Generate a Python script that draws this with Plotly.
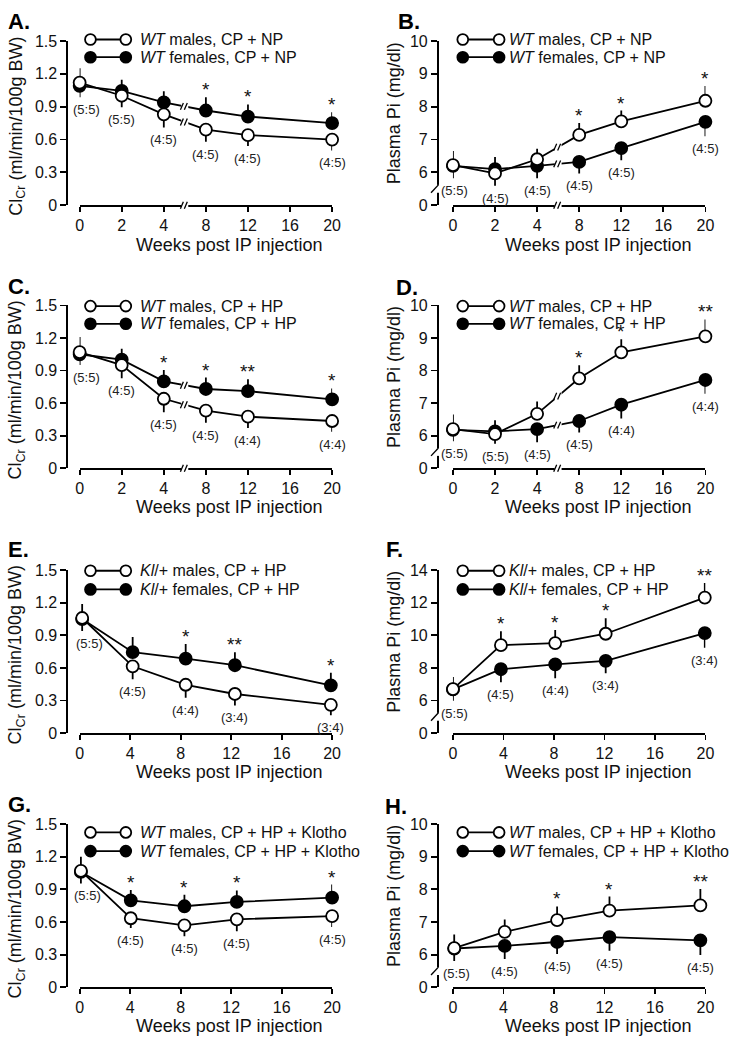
import plotly.graph_objects as go

W, H = 738, 1050
FONT = "Liberation Sans, Arial, Helvetica, sans-serif"
INK = "#111111"

# ---------------- axis categories / ticks ----------------
week_cats = ["0", "2", "4", "8", "12", "16", "20"]   # broken x axis, panels A-D
weeks_ad = ["0", "2", "4", "8", "12", "20"]          # sampled weeks, panels A-D
week_ticks_eh = [0, 4, 8, 12, 16, 20]                # panels E-H

clcr_ticks = [0, 0.3, 0.6, 0.9, 1.2, 1.5]
clcr_ticktext = ["0", "0.3", "0.6", "0.9", "1.2", "1.5"]
pi10_ticks = [5, 6, 7, 8, 9, 10]
pi10_ticktext = ["0", "6", "7", "8", "9", "10"]
pi14_ticks = [4, 6, 8, 10, 12, 14]
pi14_ticktext = ["0", "6", "8", "10", "12", "14"]

# ---------------- data ----------------
# A: ClCr, WT, CP + NP
a_male = [1.12, 1.00, 0.83, 0.69, 0.64, 0.60]
a_male_err = [0.13, 0.105, 0.12, 0.11, 0.10, 0.10]
a_female = [1.09, 1.045, 0.94, 0.865, 0.81, 0.75]
a_female_err = [0.105, 0.10, 0.10, 0.12, 0.11, 0.10]
a_n = ["(5:5)", "(5:5)", "(4:5)", "(4:5)", "(4:5)", "(4:5)"]
a_sig = ["", "", "", "*", "*", "*"]

# B: Plasma Pi, WT, CP + NP
b_male = [6.22, 5.97, 6.40, 7.14, 7.55, 8.18]
b_male_err = [0.43, 0.38, 0.32, 0.36, 0.33, 0.45]
b_female = [6.20, 6.10, 6.20, 6.32, 6.74, 7.54]
b_female_err = [0.38, 0.37, 0.38, 0.35, 0.37, 0.44]
b_n = ["(5:5)", "(4:5)", "(4:5)", "(4:5)", "(4:5)", "(4:5)"]
b_sig = ["", "", "", "*", "*", "*"]

# C: ClCr, WT, CP + HP
c_male = [1.07, 0.95, 0.64, 0.53, 0.475, 0.435]
c_male_err = [0.14, 0.12, 0.125, 0.11, 0.105, 0.10]
c_female = [1.05, 1.00, 0.80, 0.73, 0.71, 0.635]
c_female_err = [0.10, 0.10, 0.105, 0.105, 0.11, 0.10]
c_n = ["(5:5)", "(4:5)", "(4:5)", "(4:5)", "(4:4)", "(4:4)"]
c_sig = ["", "", "*", "*", "**", "*"]

# D: Plasma Pi, WT, CP + HP
d_male = [6.20, 6.05, 6.67, 7.76, 8.56, 9.05]
d_male_err = [0.45, 0.30, 0.38, 0.40, 0.40, 0.52]
d_female = [6.18, 6.13, 6.20, 6.45, 6.95, 7.71]
d_female_err = [0.35, 0.34, 0.40, 0.35, 0.42, 0.42]
d_n = ["(5:5)", "(5:5)", "(4:5)", "(4:5)", "(4:4)", "(4:4)"]
d_sig = ["", "", "", "*", "*", "**"]

# E: ClCr, Kl/+, CP + HP
e_weeks = [0.2, 4.2, 8.4, 12.3, 19.9]
e_male = [1.06, 0.615, 0.445, 0.36, 0.26]
e_male_err = [0.13, 0.12, 0.12, 0.105, 0.095]
e_female = [1.05, 0.745, 0.685, 0.625, 0.44]
e_female_err = [0.11, 0.14, 0.135, 0.12, 0.115]
e_n = ["(5:5)", "(4:5)", "(4:4)", "(3:4)", "(3:4)"]
e_sig = ["", "", "*", "**", "*"]

# F: Plasma Pi, Kl/+, CP + HP
f_weeks = [0.0, 3.8, 8.1, 12.1, 19.95]
f_male = [6.70, 9.40, 9.53, 10.10, 12.32]
f_male_err = [0.75, 0.85, 0.80, 0.95, 0.90]
f_female = [6.68, 7.92, 8.22, 8.44, 10.14]
f_female_err = [0.70, 0.80, 0.85, 0.77, 0.90]
f_n = ["(5:5)", "(4:5)", "(4:4)", "(3:4)", "(3:4)"]
f_sig = ["", "*", "*", "*", "**"]

# G: ClCr, WT, CP + HP + Klotho
g_weeks = [0.1, 4.05, 8.3, 12.45, 20.0]
g_male = [1.07, 0.635, 0.57, 0.625, 0.655]
g_male_err = [0.13, 0.09, 0.10, 0.11, 0.10]
g_female = [1.06, 0.80, 0.745, 0.785, 0.825]
g_female_err = [0.105, 0.095, 0.105, 0.105, 0.12]
g_n = ["(5:5)", "(4:5)", "(4:5)", "(4:5)", "(4:5)"]
g_sig = ["", "*", "*", "*", "*"]

# H: Plasma Pi, WT, CP + HP + Klotho
h_weeks = [0.1, 4.1, 8.25, 12.4, 19.6]
h_male = [6.20, 6.70, 7.06, 7.35, 7.51]
h_male_err = [0.42, 0.38, 0.42, 0.43, 0.50]
h_female = [6.19, 6.27, 6.39, 6.54, 6.44]
h_female_err = [0.38, 0.40, 0.37, 0.42, 0.45]
h_n = ["(5:5)", "(4:5)", "(4:5)", "(4:5)", "(4:5)"]
h_sig = ["", "", "*", "*", "**"]

clcr_title = "Cl<sub>Cr</sub> (ml/min/100g BW)"
pi_title = "Plasma Pi (mg/dl)"
x_title = "Weeks post IP injection"

# ---------------- panel configuration ----------------
ad_pos = [week_cats.index(w) for w in weeks_ad]

panels = [
    dict(tag="A.", col=0, row=0, x=ad_pos, broken_x=True, m=a_male, me=a_male_err, f=a_female, fe=a_female_err,
         n=a_n, sig=a_sig, kind="clcr", legend=("<i>WT</i> males, CP + NP", "<i>WT</i> females, CP + NP")),
    dict(tag="B.", col=1, row=0, x=ad_pos, broken_x=True, m=b_male, me=b_male_err, f=b_female, fe=b_female_err,
         n=b_n, sig=b_sig, kind="pi10", legend=("<i>WT</i> males, CP + NP", "<i>WT</i> females, CP + NP")),
    dict(tag="C.", col=0, row=1, x=ad_pos, broken_x=True, m=c_male, me=c_male_err, f=c_female, fe=c_female_err,
         n=c_n, sig=c_sig, kind="clcr", legend=("<i>WT</i> males, CP + HP", "<i>WT</i> females, CP + HP")),
    dict(tag="D.", col=1, row=1, x=ad_pos, broken_x=True, m=d_male, me=d_male_err, f=d_female, fe=d_female_err,
         n=d_n, sig=d_sig, kind="pi10", legend=("<i>WT</i> males, CP + HP", "<i>WT</i> females, CP + HP")),
    dict(tag="E.", col=0, row=2, x=e_weeks, broken_x=False, m=e_male, me=e_male_err, f=e_female, fe=e_female_err,
         n=e_n, sig=e_sig, kind="clcr", legend=("<i>Kl</i>/+ males, CP + HP", "<i>Kl</i>/+ females, CP + HP")),
    dict(tag="F.", col=1, row=2, x=f_weeks, broken_x=False, m=f_male, me=f_male_err, f=f_female, fe=f_female_err,
         n=f_n, sig=f_sig, kind="pi14", legend=("<i>Kl</i>/+ males, CP + HP", "<i>Kl</i>/+ females, CP + HP")),
    dict(tag="G.", col=0, row=3, x=g_weeks, broken_x=False, m=g_male, me=g_male_err, f=g_female, fe=g_female_err,
         n=g_n, sig=g_sig, kind="clcr",
         legend=("<i>WT</i> males, CP + HP + Klotho", "<i>WT</i> females, CP + HP + Klotho")),
    dict(tag="H.", col=1, row=3, x=h_weeks, broken_x=False, m=h_male, me=h_male_err, f=h_female, fe=h_female_err,
         n=h_n, sig=h_sig, kind="pi10",
         legend=("<i>WT</i> males, CP + HP + Klotho", "<i>WT</i> females, CP + HP + Klotho")),
]

# geometry (pixels)
COL_AXIS_X = [63.5, 440.7]
COL_X = [(77.0, 334.0), (457.0, 714.0)]
ROW_Y = [(33.5, 200.5), (302.3, 467.8), (571.5, 737.0), (829.5, 995.5)]
LEG_Y = [(32, 50), (303, 321), (572, 591), (838, 857)]
LEG_X = [(88, 124, 136), (467, 504, 512)]
YT_X = [13, 397]
TAG_POS = {"A.": (2, 14), "B.": (399, 14), "C.": (2, 283), "D.": (397, 284),
           "E.": (2, 550), "F.": (387, 550), "G.": (2, 810), "H.": (386, 812)}
XT_X = [229, 605]
XT_OFF = [40, 39, 39.5, 39]

LW = 1.8
MS = 12


def px(v):
    return v / W


def py(v):
    return 1 - v / H


fig = go.Figure()
layout = dict(width=W, height=H, margin=dict(l=0, r=0, t=0, b=0),
              paper_bgcolor="white", plot_bgcolor="white", showlegend=False,
              font=dict(family=FONT, color=INK))
annotations = []
shapes = []


def line_shape(x0, y0, x1, y1, w=LW):
    shapes.append(dict(type="line", xref="paper", yref="paper", x0=px(x0), y0=py(y0), x1=px(x1), y1=py(y1),
                       line=dict(color="black", width=w)))


def white_rect(x0, y0, x1, y1):
    shapes.append(dict(type="rect", xref="paper", yref="paper", x0=px(x0), y0=py(y0), x1=px(x1), y1=py(y1),
                       line=dict(width=0), fillcolor="white"))


def break_marks(cx, cy):
    white_rect(cx - 3.5, cy - 4, cx + 3.5, cy + 4)
    line_shape(cx - 4.5, cy + 3.5, cx - 1.5, cy - 3.5, 1.3)
    line_shape(cx - 0.5, cy + 3.5, cx + 2.5, cy - 3.5, 1.3)


for i, p in enumerate(panels, start=1):
    sfx = "" if i == 1 else str(i)
    xa, ya = "x" + sfx, "y" + sfx
    col, row = p["col"], p["row"]
    x0p, x1p = COL_X[col]
    top, bot = ROW_Y[row]
    axx = COL_AXIS_X[col]

    if p["kind"] == "clcr":
        yr, tv, tt, ytitle = [0, 1.5], clcr_ticks, clcr_ticktext, clcr_title
    elif p["kind"] == "pi10":
        yr, tv, tt, ytitle = [5, 10], pi10_ticks, pi10_ticktext, pi_title
    else:
        yr, tv, tt, ytitle = [4, 14], pi14_ticks, pi14_ticktext, pi_title

    if p["broken_x"]:
        xr, xtv, xtt = [0, 6], list(range(len(week_cats))), week_cats
    else:
        xr, xtv, xtt = [0, 20], week_ticks_eh, [str(t) for t in week_ticks_eh]

    def to_px(xv, yv):
        return (x0p + (xv - xr[0]) / (xr[1] - xr[0]) * (x1p - x0p),
                bot - (yv - yr[0]) / (yr[1] - yr[0]) * (bot - top))

    layout["xaxis" + sfx] = dict(domain=[px(x0p), px(x1p)], range=xr, anchor=ya, showline=True,
                                 linecolor="black", linewidth=LW, ticks="outside", ticklen=5,
                                 tickwidth=LW, tickcolor="black", tickmode="array", tickvals=xtv,
                                 ticktext=xtt, showgrid=False, zeroline=False,
                                 tickfont=dict(size=16, family=FONT, color=INK))
    layout["yaxis" + sfx] = dict(domain=[py(bot), py(top)], range=yr, anchor="free", position=px(axx),
                                 showline=True, linecolor="black", linewidth=LW, ticks="outside",
                                 ticklen=6, tickwidth=LW, tickcolor="black", tickmode="array",
                                 tickvals=tv, ticktext=tt, showgrid=False, zeroline=False,
                                 tickfont=dict(size=16, family=FONT, color=INK))

    # error-bar directions: upper series bar goes up, lower series bar goes down
    m_plus, m_minus, f_plus, f_minus = [], [], [], []
    for mv, fv, mev, fev in zip(p["m"], p["f"], p["me"], p["fe"]):
        if mv >= fv:
            m_plus.append(mev); m_minus.append(0); f_plus.append(0); f_minus.append(fev)
        else:
            m_plus.append(0); m_minus.append(mev); f_plus.append(fev); f_minus.append(0)

    for vals, plus, minus, fill in [(p["f"], f_plus, f_minus, "black"), (p["m"], m_plus, m_minus, "white")]:
        fig.add_trace(go.Scatter(
            x=p["x"], y=vals, xaxis=xa, yaxis=ya, mode="lines+markers", cliponaxis=False,
            line=dict(color="black", width=LW),
            marker=dict(symbol="circle", size=MS, color=fill, line=dict(color="black", width=LW)),
            error_y=dict(type="data", symmetric=False, array=plus, arrayminus=minus,
                         color="black", thickness=LW, width=0),
            hoverinfo="skip"))

    # significance stars and n labels
    for k, xv in enumerate(p["x"]):
        hi = max(p["m"][k] + m_plus[k], p["f"][k] + f_plus[k])
        lo = min(p["m"][k] - m_minus[k], p["f"][k] - f_minus[k])
        if p["sig"][k]:
            annotations.append(dict(x=xv, y=hi, xref=xa, yref=ya, text=p["sig"][k], showarrow=False,
                                    yanchor="bottom", yshift=-5, font=dict(size=19, family=FONT, color=INK)))
        annotations.append(dict(x=xv, y=lo, xref=xa, yref=ya, text=p["n"][k], showarrow=False,
                                yanchor="top", yshift=-3, xshift=(7 if col == 0 else 2) if k == 0 else 0,
                                font=dict(size=13, family=FONT, color="#222222")))

    # broken x axis marks (panels A-D)
    if p["broken_x"]:
        bx = (ad_pos[2] + ad_pos[3]) / 2
        cx, cy = to_px(bx, yr[0])
        break_marks(cx, cy)
        for vals in (p["m"], p["f"]):
            cx, cy = to_px(bx, (vals[2] + vals[3]) / 2)
            break_marks(cx, cy)

    # broken y axis marks (plasma Pi panels)
    if p["kind"] != "clcr":
        _, by = to_px(0, (tv[0] + tv[1]) / 2)
        white_rect(axx - 3, by - 4, axx + 3, by + 4)
        line_shape(axx - 6, by + 4, axx + 1.5, by - 4, 1.4)

    # custom legend
    c1, c2, tx = LEG_X[col]
    for (ly, fill, txt) in [(LEG_Y[row][0], "white", p["legend"][0]), (LEG_Y[row][1], "black", p["legend"][1])]:
        line_shape(c1, ly, c2, ly)
        for cxl in (c1, c2):
            shapes.append(dict(type="circle", xref="paper", yref="paper",
                               x0=px(cxl - 5.5), x1=px(cxl + 5.5), y0=py(ly + 5.5), y1=py(ly - 5.5),
                               fillcolor=fill, line=dict(color="black", width=LW)))
        annotations.append(dict(x=px(tx), y=py(ly), xref="paper", yref="paper", text=txt, showarrow=False,
                                xanchor="left", yanchor="middle", font=dict(size=16, family=FONT, color=INK)))

    # axis titles
    mid = (top + bot) / 2 + (3 if col == 0 else -10)
    annotations.append(dict(x=px(YT_X[col]), y=py(mid), xref="paper", yref="paper", text=ytitle,
                            textangle=-90, showarrow=False, xanchor="center", yanchor="middle",
                            font=dict(size=18, family=FONT, color=INK)))
    annotations.append(dict(x=px(XT_X[col]), y=py(bot + XT_OFF[row]), xref="paper", yref="paper",
                            text=x_title, showarrow=False, xanchor="center", yanchor="middle",
                            font=dict(size=18, family=FONT, color=INK)))
    # panel tag
    tx0, ty0 = TAG_POS[p["tag"]]
    annotations.append(dict(x=px(tx0), y=py(ty0), xref="paper", yref="paper", text="<b>" + p["tag"] + "</b>",
                            showarrow=False, xanchor="left", yanchor="middle",
                            font=dict(size=22, family=FONT, color="black")))

layout["annotations"] = annotations
layout["shapes"] = shapes
fig.update_layout(**layout)
fig.write_html("out.html", config={"displayModeBar": False, "staticPlot": True},
               post_script="document.body.style.margin='0';document.body.style.padding='0';"
                           "document.body.style.overflow='hidden';")
